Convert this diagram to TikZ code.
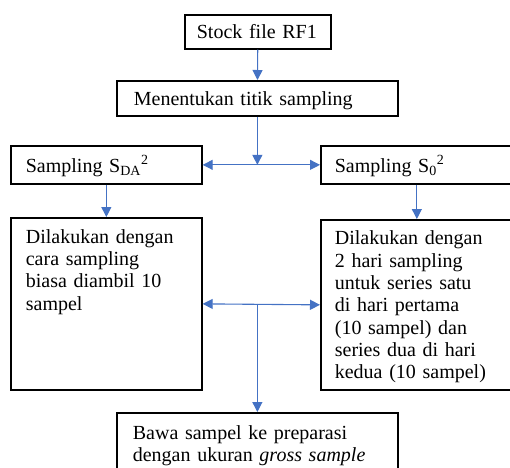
\documentclass[tikz,border=0pt]{standalone}
\usepackage{fontspec}
\setmainfont{Liberation Serif}
\usepackage{xcolor}
\definecolor{cArrow}{HTML}{4472C4}
\usetikzlibrary{arrows.meta}
\tikzset{
  node-box/.style={draw=black,line width=1.7pt,anchor=north west,align=left,
    inner ysep=0pt,font=\fontsize{20pt}{22.3pt}\selectfont},
  arrow/.style={-{Triangle[length=10pt,width=10pt]},line width=1.1pt,draw=cArrow},
  arrow-both/.style={{Triangle[length=10pt,width=10pt]}-{Triangle[length=10pt,width=10pt]},
    line width=1.1pt,draw=cArrow},
}

\begin{document}
\begin{tikzpicture}[x=1pt,y=-1pt]
  \useasboundingbox (0,0) rectangle (510,467);
  % kotak-kotak
  \node[node-box,inner xsep=12pt,text width=122pt,text height=23.7pt,text depth=10.3pt]
    (stok) at (184,14) {Stock file RF1};
  \node[node-box,inner xsep=17pt,text width=247pt,text height=24.3pt,text depth=10.7pt]
    (titik) at (116,80) {Menentukan titik sampling};
  \node[node-box,inner xsep=15pt,text width=161pt,text height=26.3pt,text depth=11.7pt]
    (sda) at (10,145) {Sampling S\textsubscript{DA}\textsuperscript{2}};
  \node[node-box,inner xsep=14pt,text width=164pt,text height=26.3pt,text depth=11.7pt]
    (so) at (320,145) {Sampling S\textsubscript{0}\textsuperscript{2}};
  \node[node-box,inner xsep=15pt,text width=161pt,text height=25.3pt,text depth=146.7pt]
    (kiri) at (10,217) {Dilakukan dengan\\cara sampling\\biasa diambil 10\\sampel};
  \node[node-box,inner xsep=14pt,text width=164pt,text height=25pt,text depth=145pt]
    (kanan) at (320,219) {Dilakukan dengan\\2 hari sampling\\untuk series satu\\di hari pertama\\(10 sampel) dan\\series dua di hari\\kedua (10 sampel)};
  \node[node-box,inner xsep=16pt,text width=249pt,text height=26.7pt,text depth=41.3pt]
    (bawa) at (116,412) {Bawa sampel ke preparasi\\dengan ukuran \textit{gross sample}};
  % titik cabang
  \coordinate (j1) at (titik.south |- sda.east);
  \coordinate (j2) at (bawa.north |- kiri.east);
  % panah
  \draw[arrow] (stok) -- (titik);
  \draw[arrow] (titik) -- (j1);
  \draw[arrow-both] (sda.east) -- (so.west);
  \draw[arrow] (sda) -- (kiri);
  \draw[arrow] (so) -- (kanan);
  \draw[arrow-both] (kiri.east) -- (kanan.west);
  \draw[arrow] (j2) -- (bawa);
\end{tikzpicture}
\end{document}
